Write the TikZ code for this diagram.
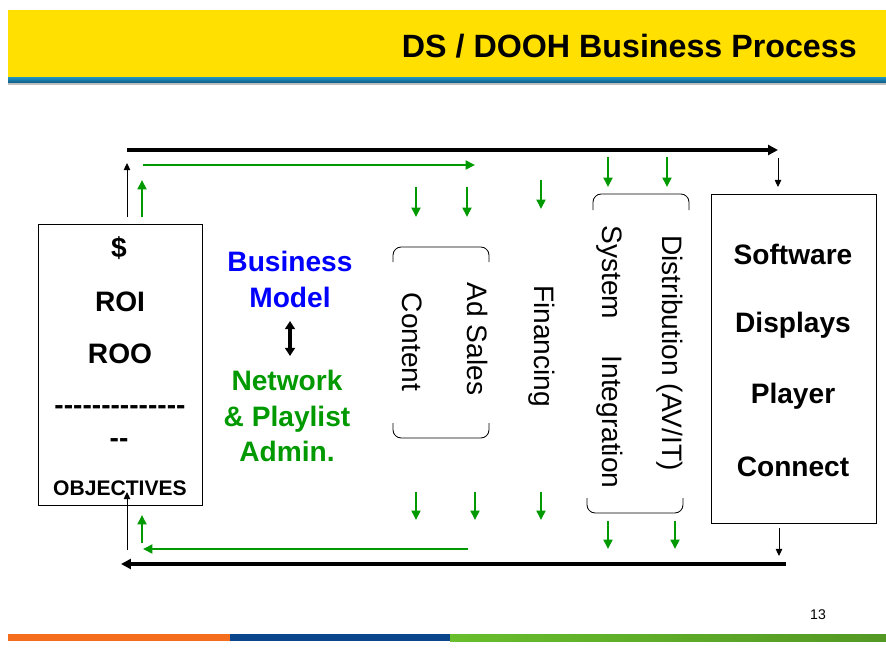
\documentclass[tikz,border=0pt]{standalone}
\usepackage{fontspec}
\setmainfont{Liberation Sans}[Ligatures=TeXOff]
\usepackage{xcolor}
\usepackage{tikz}
\usetikzlibrary{arrows.meta,calc}
\definecolor{bandyellow}{RGB}{255,224,0}
\definecolor{bandteal}{RGB}{30,150,196}
\definecolor{bandtealdk}{RGB}{12,88,130}
\definecolor{flowgreen}{RGB}{0,153,0}
\definecolor{modelblue}{RGB}{0,0,255}
\definecolor{footorange}{RGB}{244,110,30}
\definecolor{footblue}{RGB}{10,70,140}
\definecolor{footgreen}{RGB}{104,190,44}
\tikzstyle{mainflow}=[black, line width=2.6pt, -{Triangle[length=8.5pt,width=8.5pt]}]
\tikzstyle{gflow}=[flowgreen, line width=2.2pt, -{Triangle[length=8pt,width=7.5pt]}]
\tikzstyle{thinflow}=[black, line width=0.8pt, -{Triangle[length=6pt,width=5.5pt]}]
\tikzstyle{swap}=[black, line width=3pt, {Triangle[length=7pt,width=8.5pt]}-{Triangle[length=7pt,width=8.5pt]}]
\tikzstyle{box}=[draw, line width=0.7pt, inner sep=0pt]
\tikzstyle{bigtxt}=[inner sep=0pt, font=\fontsize{24}{30}\selectfont\bfseries, align=center]
\tikzstyle{sidetxt}=[inner sep=0pt, rotate=-90, font=\fontsize{24}{28}\selectfont]
\tikzstyle{brk}=[line width=0.7pt, rounded corners=7pt]

\begin{document}
\begin{tikzpicture}[x=0.03cm, y=-0.03cm]
\useasboundingbox (0,0) rectangle (886,669);
% header and footer bands
\fill[bandyellow] (8,10) rectangle (886,77);
\shade[top color=bandteal, bottom color=bandtealdk] (8,77) rectangle (886,83);
\fill[black!25] (8,83) rectangle (886,85);
\node[anchor=east, inner sep=0pt, font=\fontsize{27.5}{30}\selectfont\bfseries] (title) at (857,46) {DS / DOOH Business Process};
\fill[footorange] (8,634) rectangle (230,641);
\fill[footblue] (230,634) rectangle (450,641);
\shade[left color=footgreen, right color=footgreen!80!black] (450,634) rectangle (886,641);
\node[inner sep=0pt, font=\fontsize{12}{14}\selectfont] (page) at (818,615) {13};

% objectives box
\node[box, minimum width=4.92cm, minimum height=8.43cm] (goals) at (120,364.5) {};
\node[bigtxt] (dollar) at (119,248) {\$};
\node[bigtxt] (roi) at (120,302) {ROI};
\node[bigtxt] (roo) at (120,354) {ROO};
\node[bigtxt] (rule) at (120,410) {--------------};
\node[bigtxt] (rulend) at (119,443) {--};
\node[inner sep=0pt, font=\fontsize{18}{20}\selectfont\bfseries] (objectives) at (120,488) {OBJECTIVES};

% business model
\node[bigtxt, text=modelblue] (model) at (290,279.5) {Business\\Model};
\node[bigtxt, text=flowgreen] (admin) at (287,416) {Network\\\& Playlist\\Admin.};
\coordinate (swapT) at (290,321);
\coordinate (swapB) at (290,356);
\draw[swap] (swapT) -- (swapB);

% process columns
\node[sidetxt] (content) at (412,342) {Content};
\node[sidetxt] (adsales) at (478,339) {Ad Sales};
\node[sidetxt] (financing) at (542,346) {Financing};
\node[sidetxt] (sysint) at (610,357) {System\hspace{31pt}Integration};
\node[sidetxt] (distrib) at (670,353) {Distribution (AV/IT)};
\draw[brk] (393,262) -- (393,247) -- (489,247) -- (489,262);
\draw[brk] (393,423) -- (393,438) -- (489,438) -- (489,423);
\draw[brk] (593,210) -- (593,194) -- (689,194) -- (689,210);
\draw[brk] (587,498) -- (587,513) -- (683,513) -- (683,498);

% hardware box
\node[box, minimum width=4.95cm, minimum height=9.87cm] (hardware) at (793.5,358.5) {};
\node[bigtxt] (software) at (793,254) {Software};
\node[bigtxt] (displays) at (793,325) {Displays};
\node[bigtxt] (player) at (793,396) {Player};
\node[bigtxt] (connect) at (793,467) {Connect};

% flows
\coordinate (topL) at (127,150);
\coordinate (topR) at (778,150);
\coordinate (botR) at (786,564);
\coordinate (botL) at (121,564);
\draw[mainflow] (topL) -- (topR);
\draw[mainflow] (botR) -- (botL);
\coordinate (upA) at (127,217);
\coordinate (upB) at (127,163);
\coordinate (dnA) at (778,158);
\coordinate (dnB) at (778,187);
\coordinate (dnC) at (779,528);
\coordinate (dnD) at (779,556);
\coordinate (upC) at (127,550);
\coordinate (upD) at (127,492);
\draw[thinflow] (upA) -- (upB);
\draw[thinflow] (dnA) -- (dnB);
\draw[thinflow] (dnC) -- (dnD);
\draw[thinflow] (upC) -- (upD);
\coordinate (gupA) at (142,217);
\coordinate (gupB) at (142,180);
\coordinate (gtopL) at (143,165);
\coordinate (gtopR) at (475,165);
\coordinate (gbotR) at (468,549);
\coordinate (gbotL) at (143,549);
\coordinate (gupC) at (142,543);
\coordinate (gupD) at (142,515);
\draw[gflow] (gupA) -- (gupB);
\draw[gflow] (gtopL) -- (gtopR);
\draw[gflow] (gbotR) -- (gbotL);
\draw[gflow] (gupC) -- (gupD);
\foreach \x/\ya/\yb [count=\i] in {416/187/217, 467/187/217, 541/180/209, 608/157/187, 667/157/187,
    416/492/520, 475/492/520, 541/492/520, 608/521/549, 675/521/549} {
  \coordinate (feedA\i) at (\x,\ya);
  \coordinate (feedB\i) at (\x,\yb);
  \draw[gflow] (feedA\i) -- (feedB\i);
}
\end{tikzpicture}
\end{document}
